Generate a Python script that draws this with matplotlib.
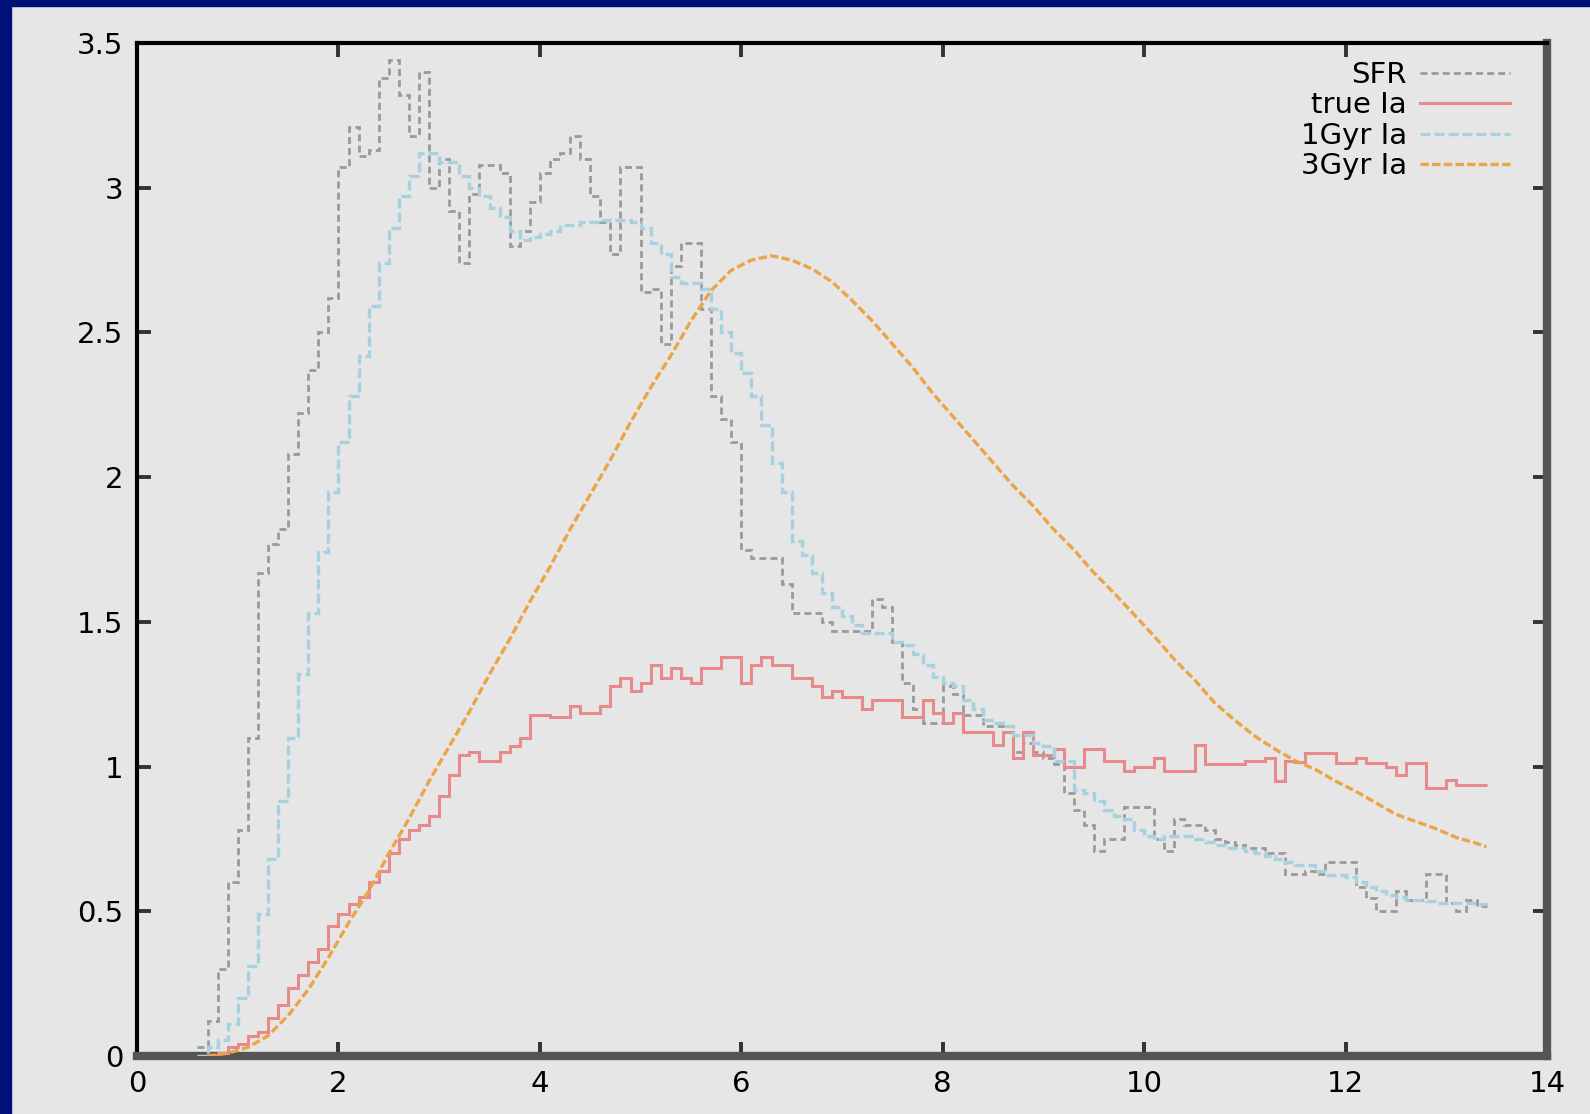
import numpy as np
import matplotlib
matplotlib.use('Agg')
import matplotlib.pyplot as plt
from matplotlib.patches import Rectangle

# histogram bins: 0.1 Gyr wide, starting at 0.6 Gyr
bin_start = 0.6
bin_width = 0.1

sfr = [
    0.03, 0.12, 0.30, 0.60, 0.78, 1.10, 1.67, 1.77, 1.82, 2.08,
    2.22, 2.37, 2.50, 2.62, 3.07, 3.21, 3.11, 3.13, 3.38, 3.44,
    3.32, 3.18, 3.40, 3.00, 3.10, 2.92, 2.74, 2.98, 3.08, 3.08,
    3.05, 2.80, 2.85, 2.95, 3.05, 3.10, 3.12, 3.18, 3.10, 2.97,
    2.88, 2.77, 3.07, 3.07, 2.64, 2.65, 2.46, 2.73, 2.81, 2.81,
    2.58, 2.28, 2.20, 2.12, 1.75, 1.72, 1.72, 1.72, 1.63, 1.53,
    1.53, 1.53, 1.50, 1.47, 1.47, 1.47, 1.47, 1.58, 1.55, 1.43,
    1.29, 1.20, 1.15, 1.15, 1.28, 1.25, 1.18, 1.18, 1.14, 1.14,
    1.12, 1.05, 1.08, 1.05, 1.03, 1.01, 0.91, 0.85, 0.80, 0.71,
    0.75, 0.75, 0.86, 0.86, 0.86, 0.75, 0.71, 0.82, 0.80, 0.80,
    0.78, 0.75, 0.74, 0.73, 0.72, 0.72, 0.70, 0.70, 0.63, 0.63,
    0.64, 0.63, 0.67, 0.67, 0.67, 0.585, 0.545, 0.50, 0.50, 0.57,
    0.54, 0.54, 0.63, 0.63, 0.53, 0.50, 0.54, 0.52,
]

true_ia = [
    0.0, 0.005, 0.01, 0.03, 0.04, 0.07, 0.084, 0.13, 0.176, 0.235,
    0.28, 0.326, 0.37, 0.45, 0.49, 0.525, 0.55, 0.60, 0.64, 0.70,
    0.75, 0.78, 0.80, 0.83, 0.90, 0.97, 1.04, 1.05, 1.02, 1.02,
    1.05, 1.07, 1.10, 1.18, 1.18, 1.17, 1.17, 1.21, 1.185, 1.185,
    1.21, 1.28, 1.305, 1.26, 1.29, 1.35, 1.305, 1.34, 1.305, 1.29,
    1.34, 1.34, 1.38, 1.38, 1.29, 1.35, 1.38, 1.35, 1.35, 1.305,
    1.305, 1.28, 1.24, 1.26, 1.24, 1.24, 1.20, 1.23, 1.23, 1.23,
    1.17, 1.17, 1.23, 1.185, 1.15, 1.185, 1.12, 1.12, 1.12, 1.075,
    1.12, 1.03, 1.12, 1.04, 1.04, 1.06, 1.00, 1.00, 1.06, 1.06,
    1.02, 1.02, 0.985, 1.00, 1.00, 1.03, 0.985, 0.985, 0.985, 1.075,
    1.01, 1.01, 1.01, 1.01, 1.02, 1.02, 1.03, 0.95, 1.02, 1.017,
    1.047, 1.047, 1.047, 1.013, 1.013, 1.03, 1.013, 1.013, 1.0, 0.97,
    1.013, 1.013, 0.925, 0.925, 0.954, 0.936, 0.936, 0.936,
]

ia_1gyr = [
    0.00, 0.03, 0.055, 0.11, 0.20, 0.31, 0.49, 0.68, 0.88, 1.10,
    1.32, 1.53, 1.74, 1.95, 2.12, 2.28, 2.42, 2.59, 2.74, 2.86,
    2.97, 3.04, 3.12, 3.12, 3.09, 3.09, 3.04, 3.00, 2.97, 2.93,
    2.90, 2.85, 2.82, 2.83, 2.84, 2.85, 2.87, 2.87, 2.88, 2.88,
    2.89, 2.89, 2.89, 2.88, 2.86, 2.81, 2.77, 2.69, 2.67, 2.67,
    2.65, 2.58, 2.50, 2.43, 2.36, 2.28, 2.18, 2.05, 1.95, 1.78,
    1.73, 1.67, 1.60, 1.55, 1.52, 1.49, 1.46, 1.46, 1.46, 1.43,
    1.42, 1.39, 1.35, 1.31, 1.29, 1.28, 1.23, 1.20, 1.16, 1.15,
    1.14, 1.11, 1.11, 1.08, 1.07, 1.02, 1.02, 0.92, 0.91, 0.88,
    0.85, 0.83, 0.82, 0.78, 0.76, 0.75, 0.76, 0.76, 0.76, 0.75,
    0.74, 0.73, 0.72, 0.72, 0.71, 0.70, 0.69, 0.68, 0.67, 0.66,
    0.66, 0.64, 0.625, 0.625, 0.62, 0.60, 0.585, 0.57, 0.556, 0.55,
    0.54, 0.54, 0.535, 0.53, 0.53, 0.53, 0.53, 0.525,
]

# 3 Gyr delay model is a smooth curve
ia_3gyr_t = [
    0.7, 0.9, 1.1, 1.3, 1.5, 1.7, 1.9, 2.1, 2.3, 2.5,
    2.7, 2.9, 3.1, 3.3, 3.5, 3.7, 3.9, 4.1, 4.3, 4.5,
    4.7, 4.9, 5.1, 5.3, 5.5, 5.7, 5.9, 6.1, 6.3, 6.5,
    6.7, 6.9, 7.1, 7.3, 7.5, 7.7, 7.9, 8.1, 8.3, 8.5,
    8.7, 8.9, 9.1, 9.3, 9.5, 9.7, 9.9, 10.1, 10.3, 10.5,
    10.7, 10.9, 11.1, 11.3, 11.5, 11.7, 11.9, 12.1, 12.3, 12.5,
    12.7, 12.9, 13.1, 13.3, 13.4,
]
ia_3gyr = [
    0.0, 0.01, 0.03, 0.07, 0.14, 0.23, 0.34, 0.46, 0.57, 0.70,
    0.82, 0.95, 1.07, 1.19, 1.32, 1.44, 1.57, 1.69, 1.82, 1.94,
    2.06, 2.19, 2.31, 2.42, 2.54, 2.645, 2.715, 2.75, 2.765, 2.75,
    2.72, 2.675, 2.61, 2.54, 2.46, 2.38, 2.29, 2.21, 2.13, 2.05,
    1.97, 1.90, 1.82, 1.75, 1.67, 1.60, 1.525, 1.45, 1.37, 1.30,
    1.22, 1.16, 1.105, 1.06, 1.02, 0.99, 0.95, 0.915, 0.875, 0.835,
    0.81, 0.785, 0.755, 0.735, 0.723,
]

x_ticks = [0, 2, 4, 6, 8, 10, 12, 14]
y_ticks = [0, 0.5, 1, 1.5, 2, 2.5, 3, 3.5]
y_tick_labels = ['0', '0.5', '1', '1.5', '2', '2.5', '3', '3.5']

bg = '#e6e6e6'
fig = plt.figure(figsize=(15.9, 11.14), dpi=100, facecolor=bg)
# navy strips on the left and top edges
fig.add_artist(Rectangle((0, 0), 11 / 1590, 1, transform=fig.transFigure,
                         color='#001078', zorder=10))
fig.add_artist(Rectangle((0, 1 - 6 / 1114), 1, 6 / 1114, transform=fig.transFigure,
                         color='#001078', zorder=10))

ax = fig.add_axes([0.0862, 0.052, 0.8868, 0.9094])
ax.set_facecolor(bg)

edges = bin_start + bin_width * np.arange(len(sfr) + 1)
ax.stairs(sfr, edges, baseline=None, color='#9a9a9a', lw=2.0,
          ls=(0, (2.5, 1.5)), label='SFR', zorder=3)
ax.stairs(true_ia, edges, baseline=None, color='#e8898b', lw=2.2,
          label='true Ia', zorder=3)
ax.stairs(ia_1gyr, edges, baseline=None, color='#a8d1df', lw=2.4,
          ls=(0, (3, 1.2)), label='1Gyr Ia', zorder=3)
ax.plot(ia_3gyr_t, ia_3gyr, color='#eba548', lw=2.4,
        ls=(0, (2.5, 1.0)), label='3Gyr Ia', zorder=3)

ax.set_xlim(0, 14)
ax.set_ylim(0, 3.5)
ax.set_xticks(x_ticks)
ax.set_yticks(y_ticks)
ax.set_yticklabels(y_tick_labels)

for side in ['left', 'top']:
    ax.spines[side].set_color('black')
    ax.spines[side].set_linewidth(3)
for side in ['right', 'bottom']:
    ax.spines[side].set_color('#555555')
    ax.spines[side].set_linewidth(6)

ax.tick_params(direction='in', length=10, width=2.8, color='#333333',
               top=True, right=True, labelsize=21, pad=10, labelcolor='black')

ax.legend(loc='upper right', bbox_to_anchor=(0.978, 0.988), frameon=False,
          markerfirst=False, fontsize=21, handlelength=3.1, handletextpad=0.45,
          labelspacing=0.085, borderaxespad=0.0, borderpad=0.2)

fig.savefig('out.png', dpi=100, facecolor=bg)
